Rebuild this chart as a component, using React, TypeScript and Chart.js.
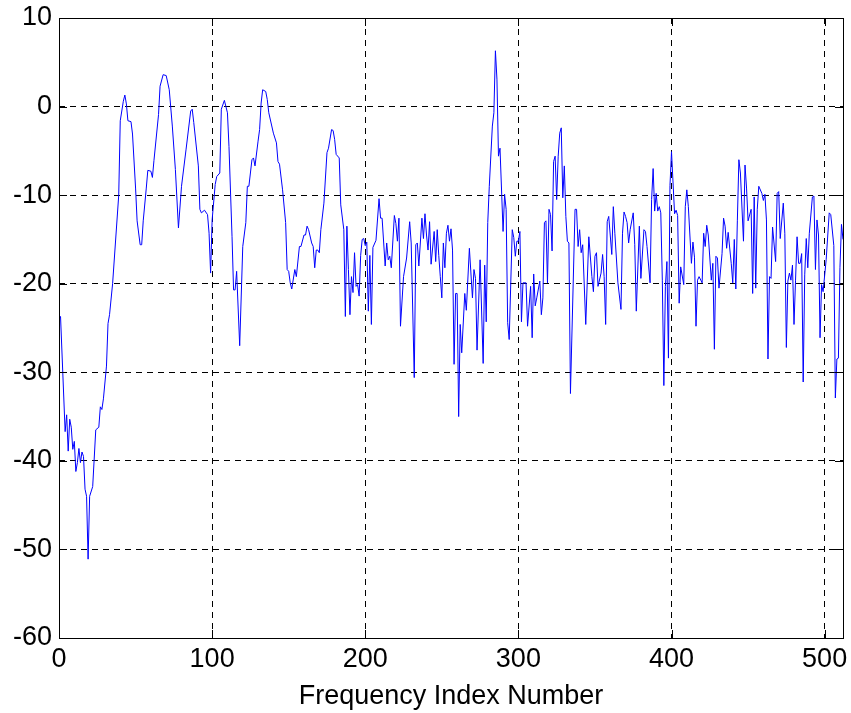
import React, { useEffect, useRef } from "react";
import { Chart, registerables } from "chart.js";

Chart.register(...registerables);

const freqIndex = [
  0, 1, 4, 5, 6, 7, 8, 9, 10, 11, 12, 13, 14, 15, 16, 17, 18, 19, 20, 22, 24, 26, 27, 28, 29, 31, 32, 33, 35, 39,
  40, 42, 43, 44, 45, 47, 48, 50, 51, 53, 54, 55, 57, 58, 60, 61, 62, 65, 66, 68, 70, 72, 74, 76, 78, 80, 83, 86, 87, 88,
  91, 92, 93, 95, 97, 98, 99, 100, 102, 103, 105, 106, 108, 110, 111, 113, 114, 115, 116, 118, 120, 122, 123, 124, 126, 127, 128, 130, 131, 132,
  133, 135, 136, 137, 140, 142, 143, 144, 146, 148, 149, 150, 151, 152, 154, 155, 157, 158, 160, 161, 162, 163, 165, 166, 167, 168, 169, 170, 171, 173,
  175, 176, 178, 179, 180, 181, 183, 184, 186, 187, 188, 189, 190, 191, 192, 193, 194, 195, 196, 197, 198, 199, 200, 201, 202, 203, 204, 205, 207, 209,
  210, 211, 213, 214, 215, 216, 217, 219, 220, 221, 222, 223, 225, 227, 229, 230, 232, 233, 234, 235, 237, 238, 239, 240, 241, 242, 243, 245, 246, 247,
  248, 249, 250, 251, 252, 253, 254, 255, 256, 257, 258, 259, 260, 261, 262, 263, 265, 266, 268, 270, 271, 272, 273, 275, 277, 278, 279, 280, 281, 283,
  284, 285, 286, 287, 288, 290, 291, 292, 293, 294, 296, 297, 298, 299, 300, 301, 302, 303, 305, 306, 308, 309, 310, 311, 312, 314, 315, 316, 317, 318,
  319, 320, 321, 322, 323, 324, 325, 326, 327, 328, 329, 330, 331, 332, 333, 334, 337, 338, 339, 340, 341, 342, 344, 346, 348, 349, 350, 351, 352, 354,
  355, 356, 357, 358, 359, 361, 362, 363, 365, 367, 368, 369, 370, 371, 372, 373, 375, 376, 377, 379, 380, 382, 383, 384, 386, 387, 388, 389, 390, 391,
  392, 393, 394, 395, 396, 397, 398, 399, 400, 402, 403, 404, 405, 406, 408, 409, 410, 411, 413, 414, 415, 416, 417, 418, 420, 421, 422, 423, 424, 426,
  427, 428, 429, 430, 431, 433, 434, 435, 436, 437, 439, 440, 441, 442, 443, 444, 445, 447, 448, 449, 450, 452, 453, 454, 455, 456, 457, 459, 460, 461,
  462, 463, 464, 465, 466, 468, 469, 470, 471, 473, 474, 475, 476, 477, 478, 479, 480, 481, 482, 483, 484, 485, 486, 487, 488, 489, 490, 492, 493, 494,
  495, 496, 497, 498, 499, 501, 503, 504, 506, 507, 508, 509, 510, 511, 512,
];

const magnitudeDb = [
  -24, -23.7, -36.7, -34.8, -38.9, -35.3, -36.2, -38.7, -37.8, -41.2, -40.2, -38.6, -40.2, -39, -39.5, -43.2, -44, -51.1, -44, -42.9, -36.5, -36.2, -33.9, -34.2, -33, -29.3, -24.5, -23.5, -20, -10,
  -1.6, 0.6, 1.3, 0.3, -1.6, -1.7, -3.1, -9.2, -12.9, -15.6, -15.6, -12.9, -9.2, -7.2, -7.3, -8, -6.1, -0.9, 2.3, 3.6, 3.5, 1.9, -2.2, -7.1, -13.7, -9, -4.8, -0.5, -0.3, -1.8,
  -6.7, -11.6, -12, -11.7, -12.2, -14.3, -18.8, -12.8, -8.8, -7.9, -7.5, -0.3, 0.7, -0.7, -4.5, -14.7, -20.7, -20.7, -18.6, -27, -15.8, -13.1, -9, -9, -6, -5.8, -6.7, -3.9, -2.6, 0.4,
  1.9, 1.7, 0.8, -0.7, -3, -4.1, -6.2, -6.5, -9.4, -13.1, -18.4, -18.6, -19.9, -20.6, -18.4, -19.2, -15.8, -15.8, -14.5, -14.5, -13.5, -13.9, -15.4, -15.8, -18.2, -16.2, -16.2, -16.5, -13.9, -10.9,
  -5.2, -4.7, -2.6, -2.7, -3.7, -5.4, -5.8, -11.1, -13.9, -23.7, -13.5, -18.4, -23.5, -19.2, -21, -16.5, -20.3, -20.1, -21.4, -16.8, -15, -14.9, -15.7, -15.3, -23.1, -16.8, -24.6, -15.9, -15.1, -10.4,
  -12.6, -12.6, -18, -15.4, -17.3, -16.9, -18.2, -12.3, -13.2, -15.2, -12.6, -24.8, -19.2, -17.1, -13, -15.4, -30.6, -15.6, -15.4, -18, -12.6, -14.9, -12.1, -14.5, -16.2, -13, -17.8, -14.1, -17.5, -13.9,
  -16.8, -19.2, -21.6, -15.4, -18.2, -14.3, -13.4, -15.2, -13.8, -16.2, -29.1, -21.1, -21.1, -35, -24.6, -27.8, -21.1, -23, -16, -21.6, -18.4, -19.4, -27.5, -17.3, -29, -17.9, -24.3, -13.1, -9, -2.2,
  -0.7, 6.3, 3.1, -5.6, -4.7, -14.1, -9.9, -11.6, -24.4, -26.3, -13.9, -14.8, -16.9, -15.2, -15.2, -14.1, -24.3, -19.9, -19.9, -24.8, -20.3, -26.1, -18.9, -22.5, -21.6, -19.7, -23.5, -21.6, -13.1, -12.9,
  -19.9, -11.6, -12.2, -16.3, -6.2, -5.6, -10.5, -5.6, -3, -2.4, -10.3, -6.7, -12.4, -15.2, -15.4, -32.4, -11.6, -11.6, -15.8, -13.9, -16.5, -15.6, -24.6, -14.7, -19.2, -20.9, -16.9, -16.5, -20.3, -18.8,
  -16.7, -19.2, -24.6, -13, -12.4, -16.7, -11.3, -14.3, -19.9, -22.9, -14.3, -11.9, -12.4, -13.1, -15.4, -13.9, -12, -15.6, -23.1, -13.5, -19.4, -13.9, -14.1, -15.8, -19.9, -10.5, -7, -11.8, -9.8, -11.8,
  -11.3, -12, -19.6, -31.5, -20.3, -17.5, -28.4, -8.9, -5.1, -12.1, -11.7, -12.3, -22.2, -18.1, -20.1, -11.3, -9.4, -11.3, -17.7, -15.3, -17, -24.8, -19.6, -19.2, -19.9, -14.3, -15.8, -13.4, -14.5, -19.6,
  -17.7, -27.4, -16.9, -17.1, -20.5, -16.6, -12.6, -13.5, -16, -14.2, -17.7, -19.9, -15, -20.6, -12.9, -6, -7.5, -15.2, -6.6, -9.2, -12.9, -11.6, -21.1, -10.2, -20.5, -11.6, -9, -9.8, -10.6, -9.9,
  -12.8, -28.5, -19.2, -19.4, -13.6, -17.5, -9.8, -9.6, -14.9, -10.9, -14.3, -27.2, -19.7, -18.8, -19.6, -17.9, -24.6, -19.6, -14.7, -17.7, -17.7, -16.6, -31.1, -19, -14.9, -18.2, -14.3, -10.2, -10.1, -18.4,
  -12.8, -14.5, -26.1, -20.1, -20.9, -17.3, -12, -12.2, -15.7, -32.9, -28.5, -28.4, -18.2, -13.3, -15,
];

const xTicks = [0, 100, 200, 300, 400, 500];
const yTicks = [-60, -50, -40, -30, -20, -10, 0, 10];
const xAxisTitle = "Frequency Index Number";

const FONT = '"Liberation Sans", Arial, Helvetica, sans-serif';

const boxPlugin = {
  id: "matlabBox",
  afterDraw(chart: any) {
    const { ctx, chartArea } = chart;
    const { left, right, top, bottom } = chartArea;
    const xs = chart.scales.x;
    const ys = chart.scales.y;
    ctx.save();
    ctx.strokeStyle = "#000";
    ctx.lineWidth = 1;
    ctx.setLineDash([]);
    const tl = 8;
    ctx.beginPath();
    for (const v of xTicks) {
      const px = Math.round(xs.getPixelForValue(v)) + 0.5;
      ctx.moveTo(px, bottom);
      ctx.lineTo(px, bottom - tl);
      ctx.moveTo(px, top);
      ctx.lineTo(px, top + tl);
    }
    for (const v of yTicks) {
      const py = Math.round(ys.getPixelForValue(v)) + 0.5;
      ctx.moveTo(left, py);
      ctx.lineTo(left + tl, py);
      ctx.moveTo(right, py);
      ctx.lineTo(right - tl, py);
    }
    ctx.stroke();
    ctx.strokeRect(Math.round(left) + 0.5, Math.round(top) + 0.5, Math.round(right - left), Math.round(bottom - top));
    ctx.restore();
  },
};

export default function App() {
  const ref = useRef<HTMLCanvasElement | null>(null);

  useEffect(() => {
    document.body.style.margin = "0";
    const canvas = ref.current;
    if (!canvas) return;
    const points = freqIndex.map((x, i) => ({ x, y: magnitudeDb[i] }));
    const chart = new Chart(canvas, {
      type: "line",
      data: {
        datasets: [
          {
            data: points,
            borderColor: "#0000ff",
            borderWidth: 1,
            pointRadius: 0,
            tension: 0,
            fill: false,
          },
        ],
      },
      options: {
        responsive: false,
        animation: false,
        events: [],
        layout: { padding: { top: 18, right: 8, left: 0, bottom: 0 } },
        plugins: {
          legend: { display: false },
          tooltip: { enabled: false },
          title: { display: false },
        },
        scales: {
          x: {
            type: "linear",
            min: 0,
            max: 512,
            afterFit: (s: any) => {
              s.height = 75;
              s.paddingLeft = 0;
              s.paddingRight = 0;
            },
            afterBuildTicks: (s: any) => {
              s.ticks = xTicks.map((v) => ({ value: v }));
            },
            ticks: {
              color: "#000",
              font: { family: FONT, size: 27 },
              padding: 5,
              maxRotation: 0,
              autoSkip: false,
            },
            grid: {
              color: "#000",
              lineWidth: 1,
              drawTicks: false,
            },
            border: { display: false, dash: [6, 5] },
            title: {
              display: true,
              text: xAxisTitle,
              color: "#000",
              font: { family: FONT, size: 27 },
              padding: { top: 0, bottom: 0 },
            },
          },
          y: {
            type: "linear",
            min: -60,
            max: 10,
            afterFit: (s: any) => {
              s.width = 59;
              s.paddingTop = 0;
              s.paddingBottom = 0;
            },
            afterBuildTicks: (s: any) => {
              s.ticks = yTicks.map((v) => ({ value: v }));
            },
            ticks: {
              color: "#000",
              font: { family: FONT, size: 27 },
              padding: 7,
              autoSkip: false,
            },
            grid: {
              color: "#000",
              lineWidth: 1,
              drawTicks: false,
            },
            border: { display: false, dash: [6, 5] },
          },
        },
      },
      plugins: [boxPlugin],
    });
    return () => chart.destroy();
  }, []);

  return (
    <div style={{ width: 851, height: 713, background: "#fff" }}>
      <canvas ref={ref} width={851} height={713} />
    </div>
  );
}
